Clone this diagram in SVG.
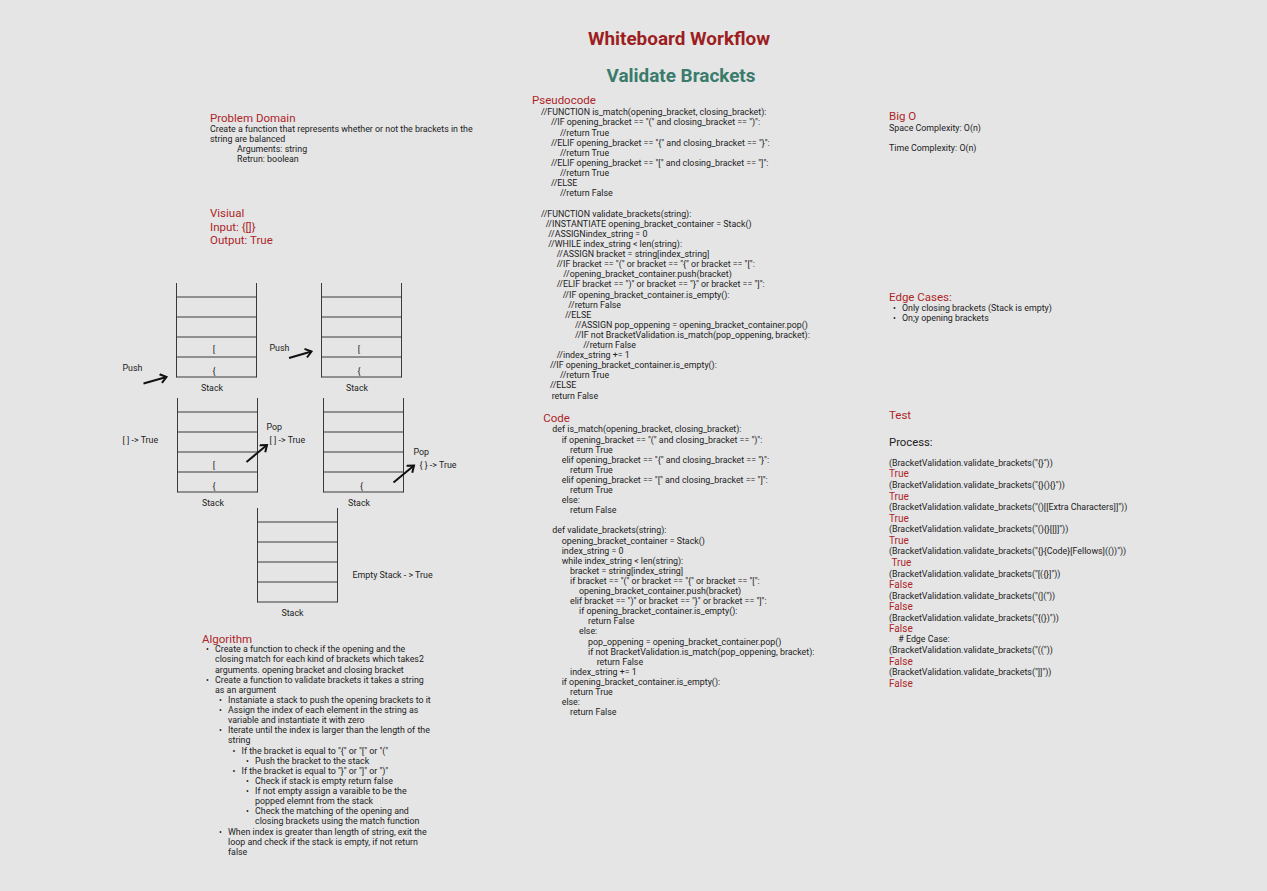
<svg xmlns="http://www.w3.org/2000/svg" width="1267" height="891" viewBox="0 0 1267 891">
<style>
text{font-family:Roboto,"Liberation Sans",sans-serif;fill:#222}
.t{font-size:8.85px}
.h{font-size:11.5px;fill:#ad2529}
.title{font-size:18.9px;font-weight:bold;fill:#9c1e22}
.sub{font-size:18.9px;font-weight:bold;fill:#3a7b6c}
.r{font-size:10px;fill:#ad2529}
.b{font-size:8.5px}
.stk line{stroke:#3a3a3a;stroke-width:1}
.arr{stroke:#111;stroke-width:2;fill:none;marker-end:url(#ah)}
</style>
<defs>
<marker id="ah" markerWidth="12" markerHeight="12" refX="7" refY="5" orient="auto" markerUnits="userSpaceOnUse">
<path d="M1,0.5 L7,5 L1,9.5" fill="none" stroke="#111" stroke-width="2"/>
</marker>
</defs>
<rect width="1267" height="891" fill="#e5e5e5"/>

<g id="titles">
<text class="title" x="679" y="45" text-anchor="middle">Whiteboard Workflow</text>
<text class="sub" x="681" y="82" text-anchor="middle">Validate Brackets</text>
</g>

<g id="problem-domain">
<text class="h" x="210" y="122">Problem Domain</text>
<text class="t" x="210" y="132">Create a function that represents whether or not the brackets in the</text>
<text class="t" x="210" y="142">string are balanced</text>
<text class="t" x="237" y="152">Arguments: string</text>
<text class="t" x="237" y="162">Retrun: boolean</text>
</g>

<g id="visual">
<text class="h" x="210" y="217">Visiual</text>
<text class="h" x="210" y="231">Input: {[]}</text>
<text class="h" x="210" y="244">Output: True</text>
</g>

<g id="stack1" class="stk">
<line x1="176.5" y1="283" x2="176.5" y2="377.5"/><line x1="256.5" y1="283" x2="256.5" y2="377.5"/>
<line x1="176.5" y1="297" x2="256.5" y2="297"/><line x1="176.5" y1="317" x2="256.5" y2="317"/>
<line x1="176.5" y1="337" x2="256.5" y2="337"/><line x1="176.5" y1="357" x2="256.5" y2="357"/>
<line x1="176.5" y1="377" x2="256.5" y2="377"/>
<text class="t" x="214" y="352" text-anchor="middle">[</text>
<text class="t" x="214" y="374" text-anchor="middle">{</text>
<text class="t" x="212" y="391" text-anchor="middle">Stack</text>
</g>

<g id="stack2" class="stk">
<line x1="321.5" y1="283" x2="321.5" y2="377.5"/><line x1="401.5" y1="283" x2="401.5" y2="377.5"/>
<line x1="321.5" y1="297" x2="401.5" y2="297"/><line x1="321.5" y1="317" x2="401.5" y2="317"/>
<line x1="321.5" y1="337" x2="401.5" y2="337"/><line x1="321.5" y1="357" x2="401.5" y2="357"/>
<line x1="321.5" y1="377" x2="401.5" y2="377"/>
<text class="t" x="359" y="352" text-anchor="middle">[</text>
<text class="t" x="359" y="374" text-anchor="middle">{</text>
<text class="t" x="357" y="391" text-anchor="middle">Stack</text>
</g>

<g id="stack3" class="stk">
<line x1="177.5" y1="398" x2="177.5" y2="492.5"/><line x1="257.5" y1="398" x2="257.5" y2="492.5"/>
<line x1="177.5" y1="412" x2="257.5" y2="412"/><line x1="177.5" y1="432" x2="257.5" y2="432"/>
<line x1="177.5" y1="452" x2="257.5" y2="452"/><line x1="177.5" y1="472" x2="257.5" y2="472"/>
<line x1="177.5" y1="492" x2="257.5" y2="492"/>
<text class="t" x="214" y="468" text-anchor="middle">[</text>
<text class="t" x="214" y="489" text-anchor="middle">{</text>
<text class="t" x="213" y="506" text-anchor="middle">Stack</text>
</g>

<g id="stack4" class="stk">
<line x1="323.5" y1="398" x2="323.5" y2="492.5"/><line x1="403.5" y1="398" x2="403.5" y2="492.5"/>
<line x1="323.5" y1="412" x2="403.5" y2="412"/><line x1="323.5" y1="432" x2="403.5" y2="432"/>
<line x1="323.5" y1="452" x2="403.5" y2="452"/><line x1="323.5" y1="472" x2="403.5" y2="472"/>
<line x1="323.5" y1="492" x2="403.5" y2="492"/>
<text class="t" x="361.5" y="489" text-anchor="middle">{</text>
<text class="t" x="359" y="506" text-anchor="middle">Stack</text>
</g>

<g id="stack5" class="stk">
<line x1="257.5" y1="508" x2="257.5" y2="602.5"/><line x1="337.5" y1="508" x2="337.5" y2="602.5"/>
<line x1="257.5" y1="522" x2="337.5" y2="522"/><line x1="257.5" y1="542" x2="337.5" y2="542"/>
<line x1="257.5" y1="562" x2="337.5" y2="562"/><line x1="257.5" y1="582" x2="337.5" y2="582"/>
<line x1="257.5" y1="602" x2="337.5" y2="602"/>
<text class="t" x="292.5" y="616" text-anchor="middle">Stack</text>
</g>

<g id="labels">
<text class="t" x="122.5" y="370.5">Push</text>
<text class="t" x="269.5" y="351">Push</text>
<text class="t" x="122.5" y="443">[ ] -&gt; True</text>
<text class="t" x="266.5" y="430">Pop</text>
<text class="t" x="269.5" y="443">[ ] -&gt; True</text>
<text class="t" x="413.5" y="455">Pop</text>
<text class="t" x="419.5" y="468">{ } -&gt; True</text>
<text class="t" x="352.5" y="577.5">Empty Stack - &gt; True</text>
</g>

<g id="connectors">
<line class="arr" x1="143.5" y1="383.5" x2="166.5" y2="377"/>
<line class="arr" x1="289" y1="358" x2="311.5" y2="351.5"/>
<line class="arr" x1="246.5" y1="462" x2="267" y2="445"/>
<line class="arr" x1="393.5" y1="482.5" x2="414" y2="465.5"/>
</g>

<g id="algorithm">
<text class="h" x="202" y="642.5">Algorithm</text>
<text class="b" x="206" y="652.3">•</text><text class="t" x="215" y="652.3">Create a function to check if the opening and the</text>
<text class="t" x="215" y="662.4">closing match for each kind of brackets which takes2</text>
<text class="t" x="215" y="672.5">arguments. opening bracket and closing bracket</text>
<text class="b" x="206" y="682.7">•</text><text class="t" x="215" y="682.7">Create a function to validate brackets it takes a string</text>
<text class="t" x="215" y="692.8">as an argument</text>
<text class="b" x="219" y="702.9">•</text><text class="t" x="228" y="702.9">Instaniate a stack to push the opening brackets to it</text>
<text class="b" x="219" y="713.1">•</text><text class="t" x="228" y="713.1">Assign the index of each element in the string as</text>
<text class="t" x="228" y="723.2">variable and instantiate it with zero</text>
<text class="b" x="219" y="733.3">•</text><text class="t" x="228" y="733.3">Iterate until the index is larger than the length of the</text>
<text class="t" x="228" y="743.4">string</text>
<text class="b" x="232.5" y="753.6">•</text><text class="t" x="241.5" y="753.6">If the bracket is equal to "{" or "[" or "("</text>
<text class="b" x="246" y="763.7">•</text><text class="t" x="255" y="763.7">Push the bracket to the stack</text>
<text class="b" x="232.5" y="773.8">•</text><text class="t" x="241.5" y="773.8">If the bracket is equal to "}" or "]" or ")"</text>
<text class="b" x="246" y="783.9">•</text><text class="t" x="255" y="783.9">Check if stack is empty return false</text>
<text class="b" x="246" y="794">•</text><text class="t" x="255" y="794">If not empty assign a varaible to be the</text>
<text class="t" x="255" y="804.1">popped elemnt from the stack</text>
<text class="b" x="246" y="814.3">•</text><text class="t" x="255" y="814.3">Check the matching of the opening and</text>
<text class="t" x="255" y="824.4">closing brackets using the match function</text>
<text class="b" x="219" y="834.5">•</text><text class="t" x="228" y="834.5">When index is greater than length of string, exit the</text>
<text class="t" x="228" y="844.6">loop and check if the stack is empty, if not return</text>
<text class="t" x="228" y="854.7">false</text>
</g>

<g id="pseudocode">
<text class="h" x="532" y="104">Pseudocode</text>
<text class="t" x="541" y="115">//FUNCTION is_match(opening_bracket, closing_bracket):</text>
<text class="t" x="551" y="125.4">//IF opening_bracket == "(" and closing_bracket == ")":</text>
<text class="t" x="560" y="135.5">//return True</text>
<text class="t" x="551" y="145.6">//ELIF opening_bracket == "{" and closing_bracket == "}":</text>
<text class="t" x="560" y="155.6">//return True</text>
<text class="t" x="551" y="165.6">//ELIF opening_bracket == "[" and closing_bracket == "]":</text>
<text class="t" x="560" y="175.6">//return True</text>
<text class="t" x="551" y="185.6">//ELSE</text>
<text class="t" x="560" y="195.6">//return False</text>

<text class="t" x="541" y="216.5">//FUNCTION validate_brackets(string):</text>
<text class="t" x="545.7" y="226.8">//INSTANTIATE opening_bracket_container = Stack()</text>
<text class="t" x="548.3" y="236.9">//ASSIGNindex_string = 0</text>
<text class="t" x="548.3" y="247">//WHILE index_string &lt; len(string):</text>
<text class="t" x="556.7" y="257.1">//ASSIGN bracket = string[index_string]</text>
<text class="t" x="556.7" y="267.2">//IF bracket == "(" or bracket == "{" or bracket == "[":</text>
<text class="t" x="563.3" y="277.3">//opening_bracket_container.push(bracket)</text>
<text class="t" x="556.7" y="287.4">//ELIF bracket == ")" or bracket == "}" or bracket == "]":</text>
<text class="t" x="562.7" y="297.5">//IF opening_bracket_container.is_empty():</text>
<text class="t" x="568.3" y="307.6">//return False</text>
<text class="t" x="565" y="317.7">//ELSE</text>
<text class="t" x="575" y="327.8">//ASSIGN pop_oppening = opening_bracket_container.pop()</text>
<text class="t" x="575" y="337.9">//IF not BracketValidation.is_match(pop_oppening, bracket):</text>
<text class="t" x="583.3" y="348">//return False</text>
<text class="t" x="556.7" y="358.1">//index_string += 1</text>
<text class="t" x="550" y="368.2">//IF opening_bracket_container.is_empty():</text>
<text class="t" x="560" y="378.3">//return True</text>
<text class="t" x="550" y="388.4">//ELSE</text>
<text class="t" x="551.7" y="398.5">return False</text>
</g>

<g id="code">
<text class="h" x="543.3" y="422">Code</text>
<text class="t" x="552.3" y="432.4">def is_match(opening_bracket, closing_bracket):</text>
<text class="t" x="561.7" y="442.5">if opening_bracket == "(" and closing_bracket == ")":</text>
<text class="t" x="570" y="452.6">return True</text>
<text class="t" x="561.7" y="462.7">elif opening_bracket == "{" and closing_bracket == "}":</text>
<text class="t" x="570" y="472.8">return True</text>
<text class="t" x="561.7" y="482.9">elif opening_bracket == "[" and closing_bracket == "]":</text>
<text class="t" x="570" y="493">return True</text>
<text class="t" x="561.7" y="503.1">else:</text>
<text class="t" x="570" y="513.2">return False</text>

<text class="t" x="552.3" y="533.4">def validate_brackets(string):</text>
<text class="t" x="561.7" y="543.5">opening_bracket_container = Stack()</text>
<text class="t" x="561.7" y="553.6">index_string = 0</text>
<text class="t" x="561.7" y="563.7">while index_string &lt; len(string):</text>
<text class="t" x="570" y="573.8">bracket = string[index_string]</text>
<text class="t" x="570" y="583.9">if bracket == "(" or bracket == "{" or bracket == "[":</text>
<text class="t" x="579" y="594">opening_bracket_container.push(bracket)</text>
<text class="t" x="570" y="604.1">elif bracket == ")" or bracket == "}" or bracket == "]":</text>
<text class="t" x="579" y="614.2">if opening_bracket_container.is_empty():</text>
<text class="t" x="588" y="624.3">return False</text>
<text class="t" x="579" y="634.4">else:</text>
<text class="t" x="588" y="644.5">pop_oppening = opening_bracket_container.pop()</text>
<text class="t" x="588" y="654.6">if not BracketValidation.is_match(pop_oppening, bracket):</text>
<text class="t" x="596.7" y="664.7">return False</text>
<text class="t" x="570" y="674.8">index_string += 1</text>
<text class="t" x="561.7" y="684.9">if opening_bracket_container.is_empty():</text>
<text class="t" x="570" y="695">return True</text>
<text class="t" x="561.7" y="705.1">else:</text>
<text class="t" x="570" y="715.2">return False</text>
</g>

<g id="big-o">
<text class="h" x="889" y="120">Big O</text>
<text class="t" x="889" y="130.7">Space Complexity: O(n)</text>
<text class="t" x="889" y="150.7">Time Complexity: O(n)</text>
</g>

<g id="edge-cases">
<text class="h" x="889" y="300.7">Edge Cases:</text>
<text class="b" x="893" y="311">•</text><text class="t" x="902" y="311">Only closing brackets (Stack is empty)</text>
<text class="b" x="893" y="321">•</text><text class="t" x="902" y="321">On;y opening brackets</text>
</g>

<g id="test">
<text class="h" x="889" y="419">Test</text>
<text x="889" y="446" style="font-size:11.3px">Process:</text>
<text class="t" x="889" y="465.6">(BracketValidation.validate_brackets("{}"))</text>
<text class="r" x="889" y="476.8">True</text>
<text class="t" x="889" y="487.6">(BracketValidation.validate_brackets("{}(){}"))</text>
<text class="r" x="889" y="499.5">True</text>
<text class="t" x="889" y="510">(BracketValidation.validate_brackets("()[[Extra Characters]]"))</text>
<text class="r" x="889" y="521.5">True</text>
<text class="t" x="889" y="531.6">(BracketValidation.validate_brackets("(){}[[]]"))</text>
<text class="r" x="889" y="543.5">True</text>
<text class="t" x="889" y="554.3">(BracketValidation.validate_brackets("{}{Code}[Fellows](())"))</text>
<text class="r" x="891.5" y="565.8">True</text>
<text class="t" x="889" y="576.6">(BracketValidation.validate_brackets("[({}]"))</text>
<text class="r" x="889" y="588.2">False</text>
<text class="t" x="889" y="598.6">(BracketValidation.validate_brackets("(]("))</text>
<text class="r" x="889" y="609.8">False</text>
<text class="t" x="889" y="620.6">(BracketValidation.validate_brackets("{(})"))</text>
<text class="r" x="889" y="632.2">False</text>
<text class="t" x="898.3" y="642.3"># Edge Case:</text>
<text class="t" x="889" y="652.6">(BracketValidation.validate_brackets("(("))</text>
<text class="r" x="889" y="664.5">False</text>
<text class="t" x="889" y="675">(BracketValidation.validate_brackets("]]"))</text>
<text class="r" x="889" y="686.8">False</text>
</g>
</svg>
